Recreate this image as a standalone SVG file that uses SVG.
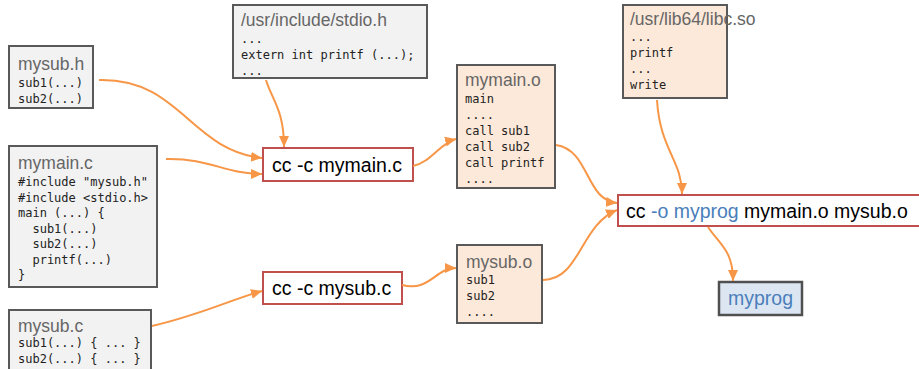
<svg xmlns="http://www.w3.org/2000/svg" width="919" height="369" viewBox="0 0 919 369">
  <style>
    .src { fill: #f2f2f2; stroke: #595959; stroke-width: 2; }
    .obj { fill: #fde9d9; stroke: #595959; stroke-width: 2; }
    .cmd { fill: #ffffff; stroke: #c0504d; stroke-width: 2; }
    .exe { fill: #dce6f2; stroke: #505050; stroke-width: 2.5; }
    .title { font-family: "Liberation Sans", Arial, sans-serif; font-size: 17.5px; fill: #666666; }
    .code { font-family: "DejaVu Sans Mono", "Liberation Mono", monospace; font-size: 12px; fill: #222222; }
    .cmdtxt { font-family: "Liberation Sans", Arial, sans-serif; font-size: 19.5px; fill: #000000; }
    .blue { fill: #4a7ebb; }
    .edge { fill: none; stroke: #f79646; stroke-width: 2; marker-end: url(#arrow); }
  </style>
  <defs>
    <marker id="arrow" markerUnits="userSpaceOnUse" markerWidth="11" markerHeight="10" refX="11" refY="5" orient="auto">
      <path d="M0,0 L11,5 L0,10 z" fill="#f79646"/>
    </marker>
  </defs>
  <rect width="919" height="369" fill="#ffffff"/>

  <!-- source files -->
  <g id="mysub_h">
    <rect class="src" x="9" y="46" width="84" height="62"/>
    <text class="title" x="18" y="70">mysub.h</text>
    <text class="code" x="18" y="87">sub1(...)</text>
    <text class="code" x="18" y="103">sub2(...)</text>
  </g>
  <g id="mymain_c">
    <rect class="src" x="9" y="146" width="148" height="141"/>
    <text class="title" x="18" y="169">mymain.c</text>
    <text class="code" x="18" y="186">#include "mysub.h"</text>
    <text class="code" x="18" y="201.5">#include &lt;stdio.h&gt;</text>
    <text class="code" x="18" y="217">main (...) {</text>
    <text class="code" x="18" y="232.5" xml:space="preserve">  sub1(...)</text>
    <text class="code" x="18" y="248" xml:space="preserve">  sub2(...)</text>
    <text class="code" x="18" y="263.5" xml:space="preserve">  printf(...)</text>
    <text class="code" x="18" y="279">}</text>
  </g>
  <g id="mysub_c">
    <rect class="src" x="9" y="310" width="142" height="70"/>
    <text class="title" x="18" y="332">mysub.c</text>
    <text class="code" x="18" y="347">sub1(...) { ... }</text>
    <text class="code" x="18" y="363">sub2(...) { ... }</text>
  </g>
  <g id="stdio_h">
    <rect class="src" x="233" y="5" width="194" height="73"/>
    <text class="title" x="241" y="26">/usr/include/stdio.h</text>
    <text class="code" x="241" y="43">...</text>
    <text class="code" x="241" y="59">extern int printf (...);</text>
    <text class="code" x="241" y="75">...</text>
  </g>
  <g id="libc_so">
    <rect class="obj" x="623" y="5" width="104" height="93"/>
    <text class="title" x="630" y="25">/usr/lib64/libc.so</text>
    <text class="code" x="630" y="41">...</text>
    <text class="code" x="630" y="57">printf</text>
    <text class="code" x="630" y="73">...</text>
    <text class="code" x="630" y="89">write</text>
  </g>

  <!-- compile steps -->
  <g id="cc_mymain">
    <rect class="cmd" x="263" y="148" width="150" height="33"/>
    <text class="cmdtxt" x="272" y="171.5">cc -c mymain.c</text>
  </g>
  <g id="cc_mysub">
    <rect class="cmd" x="263" y="272" width="139" height="32"/>
    <text class="cmdtxt" x="272" y="295">cc -c mysub.c</text>
  </g>

  <!-- object files -->
  <g id="mymain_o">
    <rect class="obj" x="457" y="65" width="98" height="123"/>
    <text class="title" x="465" y="86">mymain.o</text>
    <text class="code" x="465" y="103">main</text>
    <text class="code" x="465" y="119">....</text>
    <text class="code" x="465" y="135">call sub1</text>
    <text class="code" x="465" y="151">call sub2</text>
    <text class="code" x="465" y="167">call printf</text>
    <text class="code" x="465" y="183">....</text>
  </g>
  <g id="mysub_o">
    <rect class="obj" x="457" y="245" width="85" height="78"/>
    <text class="title" x="466" y="268">mysub.o</text>
    <text class="code" x="466" y="284">sub1</text>
    <text class="code" x="466" y="300">sub2</text>
    <text class="code" x="466" y="316">....</text>
  </g>

  <!-- link step and result -->
  <g id="cc_link">
    <rect class="cmd" x="618" y="195" width="302" height="31"/>
    <text class="cmdtxt" x="626" y="218">cc <tspan class="blue">-o myprog</tspan> mymain.o mysub.o</text>
  </g>
  <g id="myprog">
    <rect class="exe" x="719" y="282" width="83" height="33"/>
    <text class="cmdtxt blue" x="760.5" y="305" text-anchor="middle">myprog</text>
  </g>

  <!-- connectors -->
  <g id="connectors">
    <path class="edge" d="M99,80 C180,78 190,150 262,158"/>
    <path class="edge" d="M166,159 C210,158 225,174 262,174"/>
    <path class="edge" d="M266,80 C272,100 284,110 284,147"/>
    <path class="edge" d="M413,166 C430,163 440,143 456,139"/>
    <path class="edge" d="M556,145 C590,150 585,200 617,203"/>
    <path class="edge" d="M657,100 C660,150 682,160 682,194"/>
    <path class="edge" d="M152,326 C200,315 230,300 262,291"/>
    <path class="edge" d="M402,285 C430,292 435,268 456,268"/>
    <path class="edge" d="M543,280 C580,280 580,225 617,210"/>
    <path class="edge" d="M708,227 C720,245 733,250 733,281"/>
  </g>
</svg>
